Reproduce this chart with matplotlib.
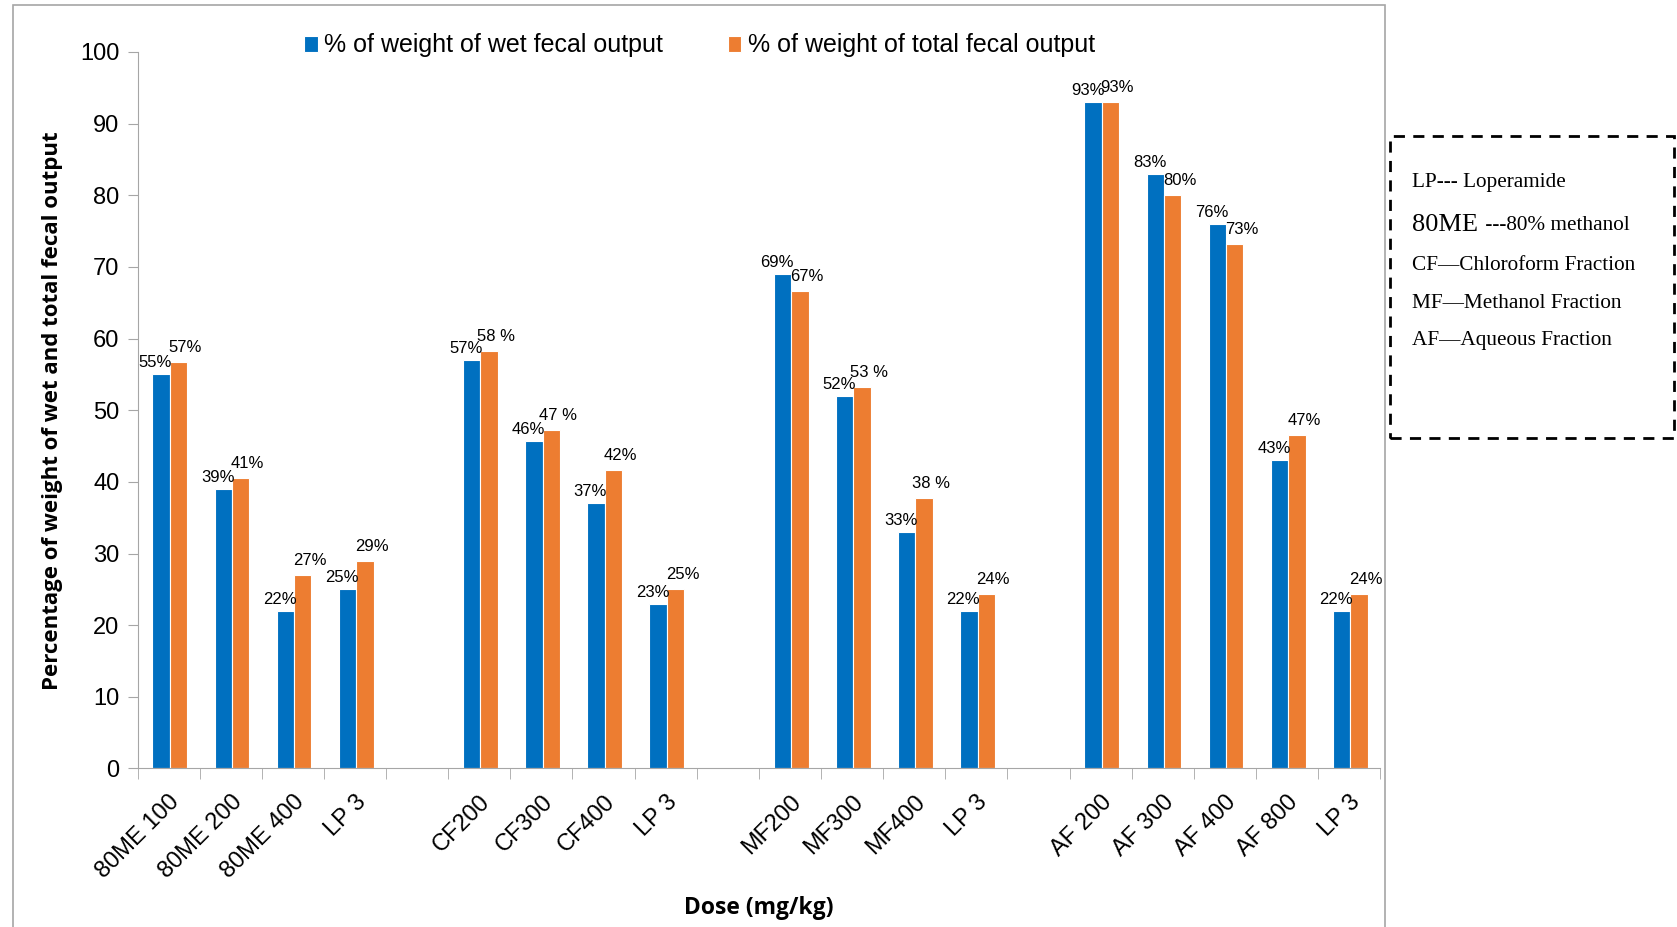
import numpy as np
import matplotlib
matplotlib.use("Agg")
import matplotlib.pyplot as plt
from matplotlib.patches import Rectangle

# categories (empty strings are the gaps between groups)
categories = ['80ME 100', '80ME 200', '80ME 400', 'LP 3', '',
              'CF200', 'CF300', 'CF400', 'LP 3', '',
              'MF200', 'MF300', 'MF400', 'LP 3', '',
              'AF 200', 'AF 300', 'AF 400', 'AF 800', 'LP 3']
wet = [55, 39, 22, 25, np.nan,
       57, 45.7, 37, 23, np.nan,
       69, 52, 33, 22, np.nan,
       93, 83, 76, 43, 22]
total = [56.7, 40.5, 27, 29, np.nan,
         58.3, 47.2, 41.6, 25, np.nan,
         66.7, 53.3, 37.8, 24.4, np.nan,
         93, 80, 73.2, 46.6, 24.4]
wet_labels = ['55%', '39%', '22%', '25%', '',
              '57%', '46%', '37%', '23%', '',
              '69%', '52%', '33%', '22%', '',
              '93%', '83%', '76%', '43%', '22%']
total_labels = ['57%', '41%', '27%', '29%', '',
                '58 %', '47 %', '42%', '25%', '',
                '67%', '53 %', '38 %', '24%', '',
                '93%', '80%', '73%', '47%', '24%']
legend_notes = ['LP--- Loperamide', '80ME ---80% methanol', 'CF\u2014Chloroform Fraction',
                'MF\u2014Methanol Fraction', 'AF\u2014Aqueous Fraction']

blue = '#0070C0'
orange = '#ED7D31'
grey = '#A6A6A6'
font = 'Liberation Sans'

fig = plt.figure(figsize=(16.77, 9.27), dpi=100)
ax = fig.add_axes([0.082, 0.171, 0.741, 0.773])

x = np.arange(len(categories))
w = 0.28
off = 0.02
b1 = ax.bar(x - w / 2 + off, wet, w, color=blue, edgecolor='white', linewidth=0.8,
            label='% of weight of wet fecal output')
b2 = ax.bar(x + w / 2 + off, total, w, color=orange, edgecolor='white', linewidth=0.8,
            label='% of weight of total fecal output')

for i in range(len(categories)):
    if wet_labels[i]:
        ax.annotate(wet_labels[i], (x[i] - w / 2 + off, wet[i]), xytext=(-4, 3),
                    textcoords='offset points', ha='center', va='bottom',
                    fontsize=12, family=font)
    if total_labels[i]:
        ax.annotate(total_labels[i], (x[i] + w / 2 + off, total[i]), xytext=(5, 5),
                    textcoords='offset points', ha='center', va='bottom',
                    fontsize=12, family=font)

ax.set_xlim(-0.5, len(categories) - 0.5)
ax.set_ylim(0, 100)
ax.set_yticks(np.arange(0, 101, 10))
ax.set_xticks(x)
ax.set_xticklabels(categories, rotation=45, ha='right', rotation_mode='anchor',
                   fontsize=17, family=font)
ax.set_xticks(np.arange(-0.5, len(categories), 1), minor=True)
ax.tick_params(axis='x', which='major', length=0, pad=16)
ax.tick_params(axis='x', which='minor', length=8, color=grey, direction='out')
ax.tick_params(axis='y', length=7, color=grey, labelsize=17, pad=6)
for t in ax.get_yticklabels():
    t.set_family(font)

for s in ['top', 'right']:
    ax.spines[s].set_visible(False)
for s in ['left', 'bottom']:
    ax.spines[s].set_color(grey)

ax.set_ylabel('Percentage of weight of wet and total fecal output', fontsize=16,
              fontweight='bold', family='Open Sans', labelpad=12)
ax.set_xlabel('Dose (mg/kg)', fontsize=16.5, fontweight='bold', family='Open Sans',
              labelpad=10)

fig.legend(handles=[b1, b2], loc='center', bbox_to_anchor=(0.417, 0.951), ncol=2,
           frameon=False, prop={'family': font, 'size': 18}, handlelength=0.55,
           handleheight=0.6, handletextpad=0.25, columnspacing=2.6)

# outer chart border
fig.patches.append(Rectangle((13 / 1677, -0.05), (1385 - 13) / 1677, 1.05 - 5 / 927,
                             transform=fig.transFigure, fill=False, edgecolor=grey,
                             linewidth=1.2))
# abbreviation box
fig.patches.append(Rectangle((1390 / 1677, 1 - 438 / 927), 284 / 1677, 302 / 927,
                             transform=fig.transFigure, fill=False, edgecolor='black',
                             linewidth=2, linestyle=(0, (4, 3))))
serif = 'Liberation Serif'
ys = [183, 225, 266, 303, 340]
fig.text(1412 / 1677, 1 - ys[0] / 927, legend_notes[0], family=serif, fontsize=15.3, va='center')
fig.text(1412 / 1677, 1 - ys[1] / 927, '80ME', family=serif, fontsize=19, va='center')
fig.text(1480 / 1677, 1 - ys[1] / 927, legend_notes[1][4:], family=serif, fontsize=15.3, va='center')
for k in range(2, 5):
    fig.text(1412 / 1677, 1 - ys[k] / 927, legend_notes[k], family=serif, fontsize=15.3, va='center')

fig.savefig('out.png', dpi=100)
